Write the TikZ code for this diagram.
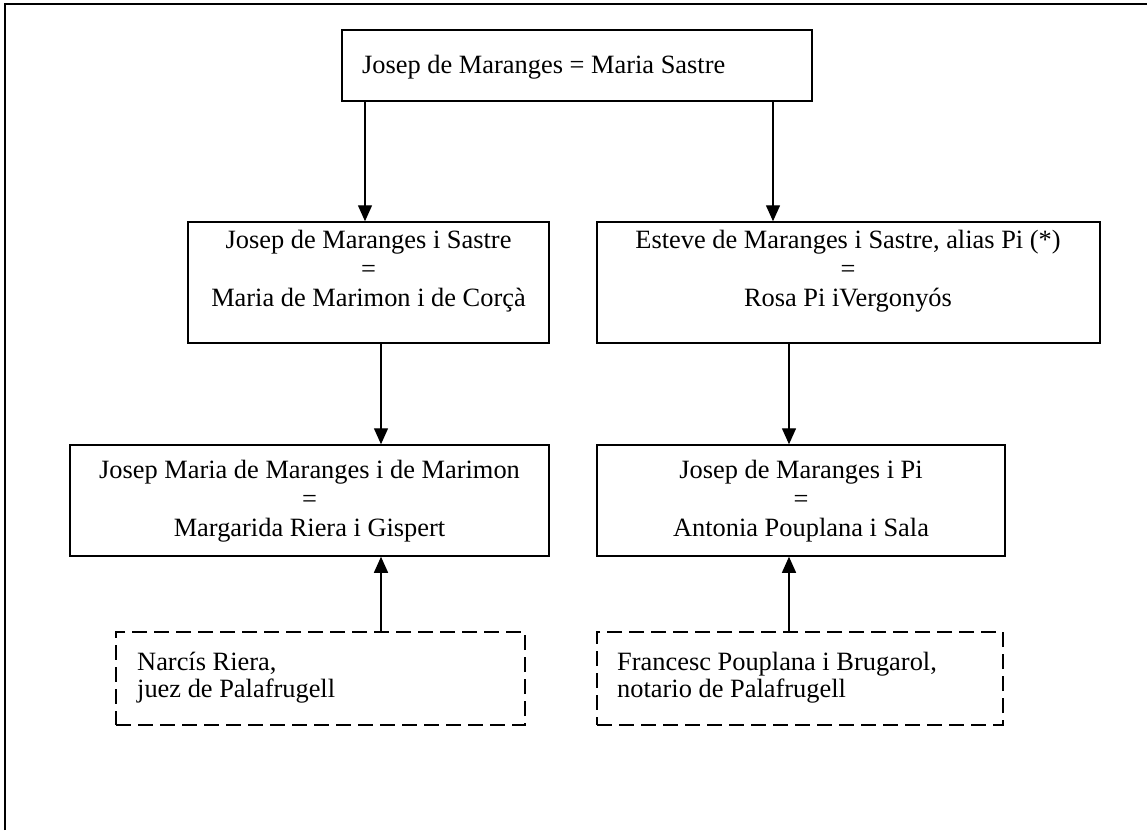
\documentclass[tikz,border=0pt]{standalone}
\usepackage{fontspec}
\setmainfont{Liberation Serif}
\usetikzlibrary{arrows.meta}
\newcommand{\mystrut}{\rule{0pt}{19pt}}
\begin{document}
\begin{tikzpicture}[x=1pt,y=-1pt,
  box/.style={draw, line width=1.5pt, rectangle, inner sep=0pt},
  dbox/.style={draw, line width=1.5pt, rectangle, dash pattern=on 15pt off 7pt, inner sep=0pt},
  txt/.style={inner sep=0pt, align=center, anchor=north, font=\fontsize{26.4}{29}\selectfont},
  ltxt/.style={inner sep=0pt, align=left, anchor=north west, font=\fontsize{26.4}{27.5}\selectfont},
  arr/.style={line width=1.4pt, -{Triangle[width=14pt,length=16pt]}},
  frame/.style={line width=2.2pt}
]
\useasboundingbox (0,0) rectangle (1147,830);
\draw[frame] (5,830) -- (5,4) -- (1147,4);

% boxes
\node[box, minimum width=470pt, minimum height=71pt] (top) at (577,65.5) {};
\node[box, minimum width=361pt, minimum height=121pt] (ml) at (368.5,282.5) {};
\node[box, minimum width=503pt, minimum height=121pt] (mr) at (848.5,282.5) {};
\node[box, minimum width=479pt, minimum height=111pt] (bl) at (309.5,500.5) {};
\node[box, minimum width=408pt, minimum height=111pt] (br) at (801,500.5) {};
\node[dbox, minimum width=409pt, minimum height=93pt] (dl) at (320.5,678.5) {};
\node[dbox, minimum width=406pt, minimum height=93pt] (dr) at (800,678.5) {};

% texts
\node[ltxt] (t0) at (362,54) {\mystrut Josep de Maranges = Maria Sastre};
\node[txt] (t1) at (368.5,229) {\mystrut Josep de Maranges i Sastre\\=\\Maria de Marimon i de Corçà};
\node[txt] (t2) at (848,229) {\mystrut Esteve de Maranges i Sastre, alias Pi (*)\\=\\Rosa Pi iVergonyós};
\node[txt] (t3) at (309.5,459) {\mystrut Josep Maria de Maranges i de Marimon\\=\\Margarida Riera i Gispert};
\node[txt] (t4) at (801,459) {\mystrut Josep de Maranges i Pi\\=\\Antonia Pouplana i Sala};
\node[ltxt] (t5) at (137,651) {\mystrut Narcís Riera,\\juez de Palafrugell};
\node[ltxt] (t6) at (617,651) {\mystrut Francesc Pouplana i Brugarol,\\notario de Palafrugell};

% connector x positions
\coordinate (xa) at (365,0);
\coordinate (xb) at (773,0);
\coordinate (xc) at (381,0);
\coordinate (xd) at (789,0);

\draw[arr] (top.south -| xa) -- (ml.north -| xa);
\draw[arr] (top.south -| xb) -- (mr.north -| xb);
\draw[arr] (ml.south -| xc) -- (bl.north -| xc);
\draw[arr] (mr.south -| xd) -- (br.north -| xd);
\draw[arr] (dl.north -| xc) -- (bl.south -| xc);
\draw[arr] (dr.north -| xd) -- (br.south -| xd);
\end{tikzpicture}
\end{document}
